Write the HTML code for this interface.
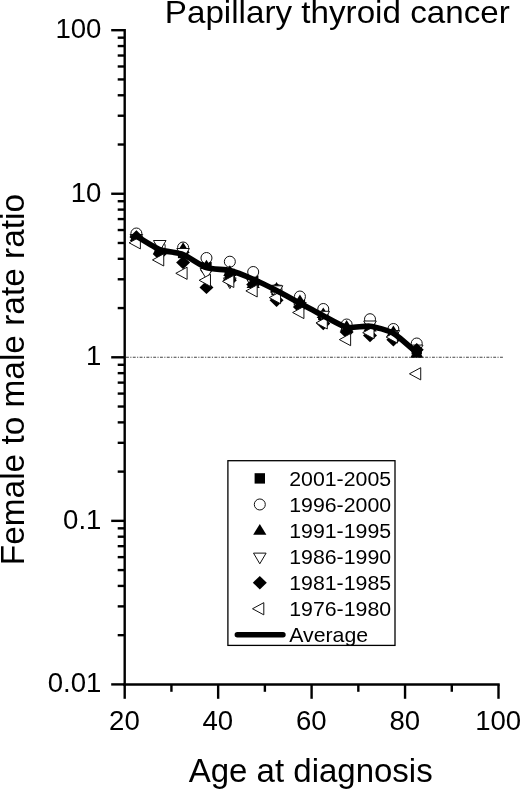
<!DOCTYPE html>
<html><head><meta charset="utf-8"><title>Papillary thyroid cancer</title>
<style>html,body{margin:0;padding:0;background:#fff}svg{display:block}text{font-family:"Liberation Sans",Arial,sans-serif;fill:#000}</style></head><body>
<svg width="520" height="790" viewBox="0 0 520 790">
<rect width="520" height="790" fill="#fff"/>
<text transform="translate(164.80,23.20) scale(1.071,1)" font-size="31" text-anchor="start">Papillary thyroid cancer</text>
<text transform="translate(188.70,782.00) scale(1.0,1)" font-size="33" text-anchor="start">Age at diagnosis</text>
<text transform="translate(24.20,565.20) rotate(-90) scale(1.0,1)" font-size="33.4" text-anchor="start">Female to male rate ratio</text>
<line x1="126" y1="357.2" x2="503.5" y2="357.2" stroke="#444" stroke-width="1.1" stroke-dasharray="2.9 1.4 1.1 1.4"/>
<g stroke="#000" stroke-width="2.4" fill="none" stroke-linecap="butt">
<line x1="124.7" y1="29.0" x2="124.7" y2="685.7"/>
<line x1="123.5" y1="684.5" x2="499.70" y2="684.5"/>
<line x1="111.2" y1="684.40" x2="124.7" y2="684.40"/>
<line x1="117.7" y1="635.17" x2="124.7" y2="635.17"/>
<line x1="117.7" y1="606.37" x2="124.7" y2="606.37"/>
<line x1="117.7" y1="585.93" x2="124.7" y2="585.93"/>
<line x1="117.7" y1="570.08" x2="124.7" y2="570.08"/>
<line x1="117.7" y1="557.13" x2="124.7" y2="557.13"/>
<line x1="117.7" y1="546.18" x2="124.7" y2="546.18"/>
<line x1="117.7" y1="536.70" x2="124.7" y2="536.70"/>
<line x1="117.7" y1="528.33" x2="124.7" y2="528.33"/>
<line x1="111.2" y1="520.85" x2="124.7" y2="520.85"/>
<line x1="117.7" y1="471.62" x2="124.7" y2="471.62"/>
<line x1="117.7" y1="442.82" x2="124.7" y2="442.82"/>
<line x1="117.7" y1="422.38" x2="124.7" y2="422.38"/>
<line x1="117.7" y1="406.53" x2="124.7" y2="406.53"/>
<line x1="117.7" y1="393.58" x2="124.7" y2="393.58"/>
<line x1="117.7" y1="382.63" x2="124.7" y2="382.63"/>
<line x1="117.7" y1="373.15" x2="124.7" y2="373.15"/>
<line x1="117.7" y1="364.78" x2="124.7" y2="364.78"/>
<line x1="111.2" y1="357.30" x2="124.7" y2="357.30"/>
<line x1="117.7" y1="308.07" x2="124.7" y2="308.07"/>
<line x1="117.7" y1="279.27" x2="124.7" y2="279.27"/>
<line x1="117.7" y1="258.83" x2="124.7" y2="258.83"/>
<line x1="117.7" y1="242.98" x2="124.7" y2="242.98"/>
<line x1="117.7" y1="230.03" x2="124.7" y2="230.03"/>
<line x1="117.7" y1="219.08" x2="124.7" y2="219.08"/>
<line x1="117.7" y1="209.60" x2="124.7" y2="209.60"/>
<line x1="117.7" y1="201.23" x2="124.7" y2="201.23"/>
<line x1="111.2" y1="193.75" x2="124.7" y2="193.75"/>
<line x1="117.7" y1="144.52" x2="124.7" y2="144.52"/>
<line x1="117.7" y1="115.72" x2="124.7" y2="115.72"/>
<line x1="117.7" y1="95.28" x2="124.7" y2="95.28"/>
<line x1="117.7" y1="79.43" x2="124.7" y2="79.43"/>
<line x1="117.7" y1="66.48" x2="124.7" y2="66.48"/>
<line x1="117.7" y1="55.53" x2="124.7" y2="55.53"/>
<line x1="117.7" y1="46.05" x2="124.7" y2="46.05"/>
<line x1="117.7" y1="37.68" x2="124.7" y2="37.68"/>
<line x1="111.2" y1="30.20" x2="124.7" y2="30.20"/>
<line x1="124.70" y1="684.5" x2="124.70" y2="698.8"/>
<line x1="171.43" y1="684.5" x2="171.43" y2="691.8"/>
<line x1="218.15" y1="684.5" x2="218.15" y2="698.8"/>
<line x1="264.88" y1="684.5" x2="264.88" y2="691.8"/>
<line x1="311.60" y1="684.5" x2="311.60" y2="698.8"/>
<line x1="358.33" y1="684.5" x2="358.33" y2="691.8"/>
<line x1="405.05" y1="684.5" x2="405.05" y2="698.8"/>
<line x1="451.78" y1="684.5" x2="451.78" y2="691.8"/>
<line x1="498.50" y1="684.5" x2="498.50" y2="698.8"/>
</g>
<text transform="translate(101.40,38.00) scale(0.985,1)" font-size="28" text-anchor="end">100</text>
<text transform="translate(101.40,201.55) scale(0.985,1)" font-size="28" text-anchor="end">10</text>
<text transform="translate(101.40,365.10) scale(0.985,1)" font-size="28" text-anchor="end">1</text>
<text transform="translate(101.40,528.65) scale(0.985,1)" font-size="28" text-anchor="end">0.1</text>
<text transform="translate(101.40,692.20) scale(0.985,1)" font-size="28" text-anchor="end">0.01</text>
<text transform="translate(124.40,729.60) scale(0.985,1)" font-size="28" text-anchor="middle">20</text>
<text transform="translate(217.85,729.60) scale(0.985,1)" font-size="28" text-anchor="middle">40</text>
<text transform="translate(311.30,729.60) scale(0.985,1)" font-size="28" text-anchor="middle">60</text>
<text transform="translate(404.75,729.60) scale(0.985,1)" font-size="28" text-anchor="middle">80</text>
<text transform="translate(498.20,729.60) scale(0.985,1)" font-size="28" text-anchor="middle">100</text>
<g>
<rect x="131.18" y="231.30" width="10.4" height="10.4" fill="#000"/>
<rect x="154.54" y="244.30" width="10.4" height="10.4" fill="#000"/>
<rect x="177.91" y="247.80" width="10.4" height="10.4" fill="#000"/>
<rect x="201.27" y="261.80" width="10.4" height="10.4" fill="#000"/>
<rect x="224.63" y="268.80" width="10.4" height="10.4" fill="#000"/>
<rect x="247.99" y="275.30" width="10.4" height="10.4" fill="#000"/>
<rect x="271.36" y="284.80" width="10.4" height="10.4" fill="#000"/>
<rect x="294.72" y="297.80" width="10.4" height="10.4" fill="#000"/>
<rect x="318.08" y="309.80" width="10.4" height="10.4" fill="#000"/>
<rect x="341.44" y="321.80" width="10.4" height="10.4" fill="#000"/>
<rect x="364.81" y="319.70" width="10.4" height="10.4" fill="#000"/>
<rect x="388.17" y="326.80" width="10.4" height="10.4" fill="#000"/>
<rect x="411.53" y="344.00" width="10.4" height="10.4" fill="#000"/>
<circle cx="136.38" cy="233.50" r="5.5" fill="#fff" stroke="#111" stroke-width="1"/>
<circle cx="159.74" cy="246.50" r="5.5" fill="#fff" stroke="#111" stroke-width="1"/>
<circle cx="183.11" cy="247.50" r="5.5" fill="#fff" stroke="#111" stroke-width="1"/>
<circle cx="206.47" cy="258.00" r="5.5" fill="#fff" stroke="#111" stroke-width="1"/>
<circle cx="229.83" cy="261.70" r="5.5" fill="#fff" stroke="#111" stroke-width="1"/>
<circle cx="253.19" cy="272.00" r="5.5" fill="#fff" stroke="#111" stroke-width="1"/>
<circle cx="276.56" cy="289.80" r="5.5" fill="#fff" stroke="#111" stroke-width="1"/>
<circle cx="299.92" cy="296.50" r="5.5" fill="#fff" stroke="#111" stroke-width="1"/>
<circle cx="323.28" cy="309.00" r="5.5" fill="#fff" stroke="#111" stroke-width="1"/>
<circle cx="346.64" cy="324.50" r="5.5" fill="#fff" stroke="#111" stroke-width="1"/>
<circle cx="370.01" cy="319.20" r="5.5" fill="#fff" stroke="#111" stroke-width="1"/>
<circle cx="393.37" cy="329.00" r="5.5" fill="#fff" stroke="#111" stroke-width="1"/>
<circle cx="416.73" cy="343.50" r="5.5" fill="#fff" stroke="#111" stroke-width="1"/>
<path d="M136.38 230.40L142.98 241.10H129.78Z" fill="#000"/>
<path d="M159.74 242.90L166.34 253.60H153.14Z" fill="#000"/>
<path d="M183.11 242.20L189.71 252.90H176.51Z" fill="#000"/>
<path d="M206.47 259.70L213.07 270.40H199.87Z" fill="#000"/>
<path d="M229.83 265.30L236.43 276.00H223.23Z" fill="#000"/>
<path d="M253.19 277.40L259.79 288.10H246.59Z" fill="#000"/>
<path d="M276.56 281.90L283.16 292.60H269.96Z" fill="#000"/>
<path d="M299.92 294.60L306.52 305.30H293.32Z" fill="#000"/>
<path d="M323.28 307.40L329.88 318.10H316.68Z" fill="#000"/>
<path d="M346.64 320.00L353.24 330.70H340.04Z" fill="#000"/>
<path d="M370.01 320.90L376.61 331.60H363.41Z" fill="#000"/>
<path d="M393.37 325.40L399.97 336.10H386.77Z" fill="#000"/>
<path d="M416.73 347.00L423.33 357.70H410.13Z" fill="#000"/>
<path d="M136.38 245.20L142.68 234.50H130.08Z" fill="#fff" stroke="#111" stroke-width="1"/>
<path d="M159.74 251.20L166.04 240.50H153.44Z" fill="#fff" stroke="#111" stroke-width="1"/>
<path d="M183.11 259.20L189.41 248.50H176.81Z" fill="#fff" stroke="#111" stroke-width="1"/>
<path d="M206.47 279.20L212.77 268.50H200.17Z" fill="#fff" stroke="#111" stroke-width="1"/>
<path d="M229.83 288.60L236.13 277.90H223.53Z" fill="#fff" stroke="#111" stroke-width="1"/>
<path d="M253.19 290.20L259.49 279.50H246.89Z" fill="#fff" stroke="#111" stroke-width="1"/>
<path d="M276.56 296.50L282.86 285.80H270.26Z" fill="#fff" stroke="#111" stroke-width="1"/>
<path d="M299.92 313.20L306.22 302.50H293.62Z" fill="#fff" stroke="#111" stroke-width="1"/>
<path d="M323.28 322.00L329.58 311.30H316.98Z" fill="#fff" stroke="#111" stroke-width="1"/>
<path d="M346.64 337.20L352.94 326.50H340.34Z" fill="#fff" stroke="#111" stroke-width="1"/>
<path d="M370.01 331.70L376.31 321.00H363.71Z" fill="#fff" stroke="#111" stroke-width="1"/>
<path d="M393.37 341.20L399.67 330.50H387.07Z" fill="#fff" stroke="#111" stroke-width="1"/>
<path d="M416.73 355.80L423.03 345.10H410.43Z" fill="#fff" stroke="#111" stroke-width="1"/>
<path d="M136.38 230.30L143.38 237.00L136.38 243.70L129.38 237.00Z" fill="#000"/>
<path d="M159.74 247.30L166.74 254.00L159.74 260.70L152.74 254.00Z" fill="#000"/>
<path d="M183.11 255.90L190.11 262.60L183.11 269.30L176.11 262.60Z" fill="#000"/>
<path d="M206.47 280.70L213.47 287.40L206.47 294.10L199.47 287.40Z" fill="#000"/>
<path d="M229.83 273.60L236.83 280.30L229.83 287.00L222.83 280.30Z" fill="#000"/>
<path d="M253.19 277.90L260.19 284.60L253.19 291.30L246.19 284.60Z" fill="#000"/>
<path d="M276.56 293.60L283.56 300.30L276.56 307.00L269.56 300.30Z" fill="#000"/>
<path d="M299.92 300.30L306.92 307.00L299.92 313.70L292.92 307.00Z" fill="#000"/>
<path d="M323.28 316.90L330.28 323.60L323.28 330.30L316.28 323.60Z" fill="#000"/>
<path d="M346.64 325.40L353.64 332.10L346.64 338.80L339.64 332.10Z" fill="#000"/>
<path d="M370.01 328.80L377.01 335.50L370.01 342.20L363.01 335.50Z" fill="#000"/>
<path d="M393.37 333.10L400.37 339.80L393.37 346.50L386.37 339.80Z" fill="#000"/>
<path d="M416.73 343.10L423.73 349.80L416.73 356.50L409.73 349.80Z" fill="#000"/>
<path d="M129.08 242.80L140.38 236.70V248.90Z" fill="#fff" stroke="#111" stroke-width="1"/>
<path d="M152.44 259.90L163.74 253.80V266.00Z" fill="#fff" stroke="#111" stroke-width="1"/>
<path d="M175.81 273.30L187.11 267.20V279.40Z" fill="#fff" stroke="#111" stroke-width="1"/>
<path d="M199.17 280.30L210.47 274.20V286.40Z" fill="#fff" stroke="#111" stroke-width="1"/>
<path d="M222.53 281.40L233.83 275.30V287.50Z" fill="#fff" stroke="#111" stroke-width="1"/>
<path d="M245.89 290.90L257.19 284.80V297.00Z" fill="#fff" stroke="#111" stroke-width="1"/>
<path d="M269.26 297.60L280.56 291.50V303.70Z" fill="#fff" stroke="#111" stroke-width="1"/>
<path d="M292.62 312.50L303.92 306.40V318.60Z" fill="#fff" stroke="#111" stroke-width="1"/>
<path d="M315.98 322.90L327.28 316.80V329.00Z" fill="#fff" stroke="#111" stroke-width="1"/>
<path d="M339.34 339.60L350.64 333.50V345.70Z" fill="#fff" stroke="#111" stroke-width="1"/>
<path d="M362.71 332.70L374.01 326.60V338.80Z" fill="#fff" stroke="#111" stroke-width="1"/>
<path d="M386.07 337.00L397.37 330.90V343.10Z" fill="#fff" stroke="#111" stroke-width="1"/>
<path d="M409.43 373.80L420.73 367.70V379.90Z" fill="#fff" stroke="#111" stroke-width="1"/>
</g>
<path d="M136.38 236.00C138.72 237.36 155.07 247.75 159.74 249.60C164.42 251.45 178.43 252.69 183.11 254.50C187.78 256.31 201.80 266.10 206.47 267.70C211.14 269.30 225.16 269.35 229.83 270.50C234.50 271.65 248.52 277.20 253.19 279.20C257.87 281.20 271.88 288.10 276.56 290.50C281.23 292.90 295.25 300.68 299.92 303.20C304.59 305.72 318.61 313.29 323.28 315.70C327.95 318.11 341.97 326.25 346.64 327.30C351.32 328.35 365.33 325.61 370.01 326.20C374.68 326.79 388.70 330.55 393.37 333.20C398.04 335.85 414.39 350.75 416.73 352.70" fill="none" stroke="#000" stroke-width="5.6" stroke-linejoin="round" stroke-linecap="butt"/>
<rect x="227.9" y="460.7" width="167.1" height="184.7" fill="#fff" stroke="#000" stroke-width="1.3"/>
<rect x="254.60" y="473.20" width="10.4" height="10.4" fill="#000"/>
<circle cx="259.80" cy="504.47" r="5.5" fill="#fff" stroke="#111" stroke-width="1"/>
<path d="M259.80 523.94L266.40 534.64H253.20Z" fill="#000"/>
<path d="M259.80 563.81L266.10 553.11H253.50Z" fill="#fff" stroke="#111" stroke-width="1"/>
<path d="M259.80 575.98L266.80 582.68L259.80 589.38L252.80 582.68Z" fill="#000"/>
<path d="M252.50 608.75L263.80 602.65V614.85Z" fill="#fff" stroke="#111" stroke-width="1"/>
<line x1="237.3" y1="634.82" x2="283" y2="634.82" stroke="#000" stroke-width="5.4" stroke-linecap="round"/>
<text transform="translate(289.20,485.50) scale(1.087,1)" font-size="19.6" text-anchor="start">2001-2005</text>
<text transform="translate(289.20,511.57) scale(1.087,1)" font-size="19.6" text-anchor="start">1996-2000</text>
<text transform="translate(289.20,537.64) scale(1.087,1)" font-size="19.6" text-anchor="start">1991-1995</text>
<text transform="translate(289.20,563.71) scale(1.087,1)" font-size="19.6" text-anchor="start">1986-1990</text>
<text transform="translate(289.20,589.78) scale(1.087,1)" font-size="19.6" text-anchor="start">1981-1985</text>
<text transform="translate(289.20,615.85) scale(1.087,1)" font-size="19.6" text-anchor="start">1976-1980</text>
<text transform="translate(289.20,641.92) scale(1.087,1)" font-size="19.6" text-anchor="start">Average</text>
</svg></body></html>
